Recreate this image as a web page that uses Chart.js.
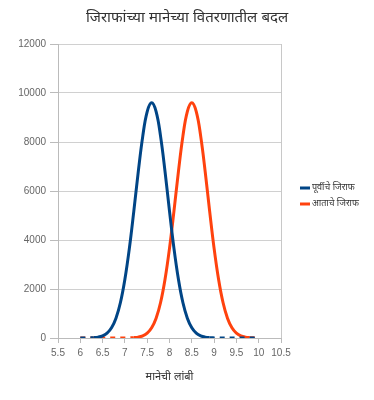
<!DOCTYPE html>
<html>
<head>
<meta charset="utf-8">
<script src="https://cdn.jsdelivr.net/npm/chart.js@4.4.0/dist/chart.umd.min.js"></script>
<style>
  html, body { margin: 0; padding: 0; background: #fff; }
  #wrap { width: 374px; height: 400px; }
</style>
</head>
<body>
<div id="wrap"><canvas id="neckChart"></canvas></div>
<script>
const chartTitle = 'जिराफांच्या मानेच्या वितरणातील बदल';
const xAxisTitle = 'मानेची लांबी';
const seriesNames = ['पूर्वीचे जिराफ', 'आताचे जिराफ'];
const seriesColors = ['#004586', '#ff420e'];

const neckLengths = [
  6.0, 6.1, 6.2, 6.3, 6.4, 6.5, 6.6, 6.7, 6.8, 6.9,
  7.0, 7.1, 7.2, 7.3, 7.4, 7.5, 7.6, 7.7, 7.8, 7.9,
  8.0, 8.1, 8.2, 8.3, 8.4, 8.5, 8.6, 8.7, 8.8, 8.9,
  9.0, 9.1, 9.2, 9.3, 9.4, 9.5, 9.6, 9.7, 9.8, 9.9,
  10.0
];
const earlierGiraffes = [
  0, 2, 5, 14, 37, 90, 200, 420, 810, 1450,
  2400, 3660, 5180, 6790, 8230, 9240, 9600, 9240, 8230, 6790,
  5180, 3660, 2400, 1450, 810, 420, 200, 90, 37, 14,
  5, 2, 0, 0, 0, 0, 0, 0, 0, 0,
  0
];
const currentGiraffes = [
  0, 0, 0, 0, 0, 0, 0, 0, 0, 0,
  2, 5, 14, 37, 90, 200, 420, 810, 1450, 2400,
  3660, 5180, 6790, 8230, 9240, 9600, 9240, 8230, 6790, 5180,
  3660, 2400, 1450, 810, 420, 200, 90, 37, 14, 5,
  2
];
const xTicks = [5.5, 6, 6.5, 7, 7.5, 8, 8.5, 9, 9.5, 10, 10.5];
const yTicks = [0, 2000, 4000, 6000, 8000, 10000, 12000];

Chart.defaults.font.family = "'Liberation Sans', 'Noto Sans', sans-serif";

// tails that sit on the axis are drawn dashed, like the original
const tailDash = ctx => (ctx.p0.parsed.y < 20 && ctx.p1.parsed.y < 20) ? [5, 5] : undefined;

const makeSeries = (values, i) => ({
  label: seriesNames[i],
  data: values.map((v, k) => ({ x: neckLengths[k], y: v })),
  borderColor: seriesColors[i],
  backgroundColor: seriesColors[i],
  borderWidth: 3,
  pointRadius: 0,
  tension: 0.4,
  fill: false,
  segment: { borderDash: tailDash },
});

const sideLegend = {
  id: 'sideLegend',
  afterDraw(chart) {
    const ctx = chart.ctx;
    ctx.save();
    ctx.font = "9px 'Liberation Sans', 'Noto Sans', sans-serif";
    ctx.textBaseline = 'middle';
    chart.data.datasets.forEach((ds, i) => {
      const y = 188 + i * 16;
      ctx.fillStyle = ds.borderColor;
      ctx.fillRect(300, y - 1.5, 10, 3);
      ctx.fillStyle = '#333';
      ctx.fillText(ds.label, 312, y);
    });
    ctx.restore();
  }
};

const neckChart = document.getElementById('neckChart');
new Chart(neckChart, {
  type: 'line',
  data: {
    datasets: [makeSeries(earlierGiraffes, 0), makeSeries(currentGiraffes, 1)],
  },
  options: {
    responsive: true,
    maintainAspectRatio: false,
    animation: false,
    layout: { padding: { left: 0, right: 0, top: 0, bottom: 12 } },
    plugins: {
      legend: { display: false },
      tooltip: { enabled: false },
      title: {
        display: true,
        text: chartTitle,
        color: '#333',
        font: { size: 15, weight: 'normal' },
        padding: { top: 9, bottom: 17 },
      },
    },
    scales: {
      x: {
        type: 'linear',
        min: 5.5,
        max: 10.5,
        afterBuildTicks: scale => { scale.ticks = xTicks.map(v => ({ value: v })); },
        afterFit: scale => { scale.height = 50; },
        ticks: {
          color: '#666',
          font: { size: 10 },
          padding: 4,
          maxRotation: 0,
          autoSkip: false,
          callback: v => String(v),
        },
        grid: {
          color: ctx => (ctx.tick && ctx.tick.value === 10.5) ? '#c8c8c8' : 'transparent',
          tickColor: '#bbb',
          tickLength: 5,
        },
        border: { color: '#bbb' },
        title: {
          display: true,
          text: xAxisTitle,
          color: '#333',
          font: { size: 11 },
          padding: { top: 4, bottom: 4 },
        },
      },
      y: {
        min: 0,
        max: 12000,
        afterBuildTicks: scale => { scale.ticks = yTicks.map(v => ({ value: v })); },
        afterFit: scale => { scale.width = 58; },
        ticks: { color: '#666', font: { size: 10 }, padding: 4, callback: v => String(v) },
        grid: { color: '#d0d0d0', tickColor: '#bbb', tickLength: 8 },
        border: { color: '#bbb' },
      },
      // empty right-hand box that keeps room for the legend
      legendSpace: {
        type: 'linear',
        position: 'right',
        display: true,
        afterFit: scale => { scale.width = 93; },
        ticks: { display: false },
        grid: { display: false },
        border: { display: false },
      },
    },
  },
  plugins: [sideLegend],
});
</script>
</body>
</html>
